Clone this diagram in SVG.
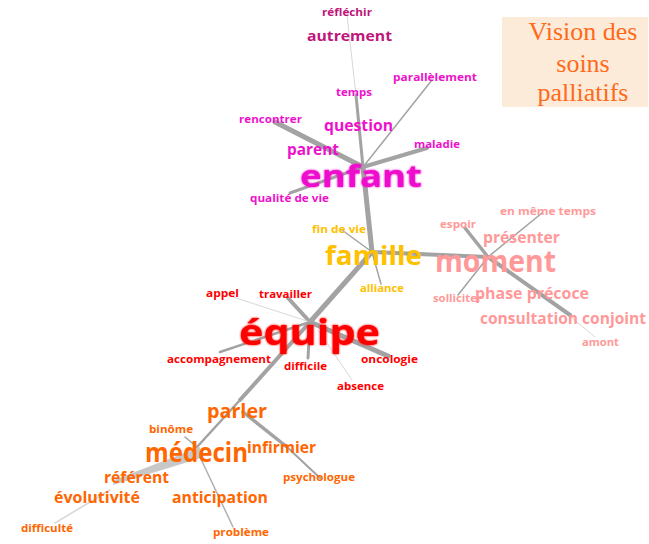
<svg xmlns="http://www.w3.org/2000/svg" width="649" height="544" viewBox="0 0 649 544">
<defs>
<style>
text.w{font-family:"Open Sans","Noto Sans","DejaVu Sans",sans-serif;font-weight:bold}
.s{font-size:10.5px}
.m{font-size:16.5px}
.mg{fill:#EE11CC}.dk{fill:#C0157A}.gd{fill:#FFC000}.pk{fill:#FF9999}.rd{fill:#FF0000}.or{fill:#FF6600}
#connectors line{stroke:#a3a3a3;stroke-linecap:round;fill:none}
#connectors .lt{stroke:#d8d8d8}
.title{font-family:"Liberation Serif","Times New Roman",serif;font-size:26px;fill:#FF6A1A;text-anchor:middle}
</style>
<filter id="glow" x="-10%" y="-30%" width="120%" height="160%">
<feGaussianBlur in="SourceGraphic" stdDeviation="0.9" result="b"/>
<feMerge><feMergeNode in="b"/><feMergeNode in="SourceGraphic"/></feMerge>
</filter>
</defs>
<rect width="649" height="544" fill="#ffffff"/>
<g id="title">
<rect x="502" y="17" width="146" height="90" fill="#FDEBD9"/>
<text class="title" x="583" y="40">Vision des</text>
<text class="title" x="583" y="72">soins</text>
<text class="title" x="583" y="101">palliatifs</text>
</g>
<g id="connectors">
<line class="lt" x1="347" y1="15" x2="356" y2="95" stroke-width="1"/>
<line x1="356" y1="95" x2="363" y2="167" stroke-width="3"/>
<line x1="432" y1="80" x2="363" y2="167" stroke-width="1.5"/>
<line x1="275" y1="122" x2="363" y2="167" stroke-width="5"/>
<line x1="427" y1="148" x2="363" y2="167" stroke-width="4"/>
<line x1="290" y1="193" x2="363" y2="167" stroke-width="3"/>
<line x1="363" y1="167" x2="372" y2="252" stroke-width="5"/>
<line x1="342" y1="230" x2="372" y2="252" stroke-width="1.5"/>
<line x1="372" y1="252" x2="381" y2="284" stroke-width="1.5"/>
<line x1="372" y1="252" x2="488" y2="257" stroke-width="4"/>
<line x1="465" y1="228" x2="488" y2="257" stroke-width="3.5"/>
<line x1="542" y1="213" x2="488" y2="257" stroke-width="1.5"/>
<line x1="458" y1="295" x2="488" y2="257" stroke-width="1.5"/>
<line x1="488" y1="257" x2="570" y2="315" stroke-width="4"/>
<line class="lt" x1="572" y1="318" x2="595" y2="337" stroke-width="1"/>
<line x1="372" y1="252" x2="310" y2="322" stroke-width="5"/>
<line x1="310" y1="322" x2="240" y2="400" stroke-width="4"/>
<line x1="240" y1="400" x2="197" y2="447" stroke-width="2.5"/>
<line x1="288" y1="298" x2="310" y2="322" stroke-width="4"/>
<line x1="310" y1="322" x2="388" y2="356" stroke-width="5"/>
<line class="lt" x1="233" y1="297" x2="310" y2="322" stroke-width="1"/>
<line x1="220" y1="352" x2="310" y2="322" stroke-width="2.5"/>
<line x1="308" y1="358" x2="310" y2="322" stroke-width="3"/>
<line class="lt" x1="318" y1="330" x2="352" y2="380" stroke-width="1"/>
<line x1="243" y1="412" x2="287" y2="447" stroke-width="3.5"/>
<line x1="287" y1="447" x2="320" y2="478" stroke-width="2"/>
<line x1="185" y1="437" x2="197" y2="447" stroke-width="1.5"/>
<polygon points="200,447 201,458 113,485 114,480" fill="#c8c8c8"/>
<line class="lt" x1="55" y1="523" x2="110" y2="490" stroke-width="1.5"/>
<line x1="200" y1="457" x2="233" y2="527" stroke-width="1.5" style="stroke:#b0b0b0"/>
</g>
<g id="n-reflechir"><text class="w s dk" x="322" y="16" textLength="50" lengthAdjust="spacingAndGlyphs">réfléchir</text></g>
<g id="n-autrement"><text class="w dk" style="font-size:15px" x="307" y="41" textLength="85" lengthAdjust="spacingAndGlyphs">autrement</text></g>
<g id="n-parallelement"><text class="w s mg" x="393" y="81" textLength="84" lengthAdjust="spacingAndGlyphs">parallèlement</text></g>
<g id="n-temps"><text class="w s mg" x="336" y="96" textLength="36" lengthAdjust="spacingAndGlyphs">temps</text></g>
<g id="n-rencontrer"><text class="w s mg" x="239" y="123" textLength="63" lengthAdjust="spacingAndGlyphs">rencontrer</text></g>
<g id="n-question"><text class="w m mg" x="324" y="131" textLength="69" lengthAdjust="spacingAndGlyphs">question</text></g>
<g id="n-parent"><text class="w m mg" x="287" y="155" textLength="52" lengthAdjust="spacingAndGlyphs">parent</text></g>
<g id="n-maladie"><text class="w s mg" x="414" y="148" textLength="46" lengthAdjust="spacingAndGlyphs">maladie</text></g>
<g id="n-enfant"><text class="w mg" style="font-size:31px" filter="url(#glow)" x="300" y="187" textLength="122" lengthAdjust="spacingAndGlyphs">enfant</text></g>
<g id="n-qualite"><text class="w s mg" x="250" y="202" textLength="79" lengthAdjust="spacingAndGlyphs">qualité de vie</text></g>
<g id="n-findevie"><text class="w s gd" x="312" y="233" textLength="54" lengthAdjust="spacingAndGlyphs">fin de vie</text></g>
<g id="n-famille"><text class="w gd" style="font-size:27px" x="325" y="265" textLength="97" lengthAdjust="spacingAndGlyphs">famille</text></g>
<g id="n-alliance"><text class="w s gd" x="360" y="292" textLength="44" lengthAdjust="spacingAndGlyphs">alliance</text></g>
<g id="n-espoir"><text class="w s pk" x="440" y="228" textLength="36" lengthAdjust="spacingAndGlyphs">espoir</text></g>
<g id="n-enmemetemps"><text class="w s pk" x="500" y="215" textLength="96" lengthAdjust="spacingAndGlyphs">en même temps</text></g>
<g id="n-presenter"><text class="w m pk" x="483" y="243" textLength="77" lengthAdjust="spacingAndGlyphs">présenter</text></g>
<g id="n-moment"><text class="w pk" style="font-size:30px" x="435" y="272" textLength="121" lengthAdjust="spacingAndGlyphs">moment</text></g>
<g id="n-solliciter"><text class="w s pk" x="433" y="302" textLength="49" lengthAdjust="spacingAndGlyphs">solliciter</text></g>
<g id="n-phase"><text class="w m pk" x="475" y="299" textLength="114" lengthAdjust="spacingAndGlyphs">phase précoce</text></g>
<g id="n-consultation"><text class="w m pk" x="480" y="324" textLength="166" lengthAdjust="spacingAndGlyphs">consultation conjoint</text></g>
<g id="n-amont"><text class="w s pk" x="582" y="346" textLength="37" lengthAdjust="spacingAndGlyphs">amont</text></g>
<g id="n-appel"><text class="w s rd" x="206" y="297" textLength="33" lengthAdjust="spacingAndGlyphs">appel</text></g>
<g id="n-travailler"><text class="w s rd" x="259" y="298" textLength="53" lengthAdjust="spacingAndGlyphs">travailler</text></g>
<g id="n-equipe"><text class="w rd" style="font-size:36px" filter="url(#glow)" x="239" y="345" textLength="141" lengthAdjust="spacingAndGlyphs">équipe</text></g>
<g id="n-accompagnement"><text class="w s rd" x="167" y="363" textLength="104" lengthAdjust="spacingAndGlyphs">accompagnement</text></g>
<g id="n-difficile"><text class="w s rd" x="284" y="370" textLength="43" lengthAdjust="spacingAndGlyphs">difficile</text></g>
<g id="n-oncologie"><text class="w s rd" x="361" y="363" textLength="57" lengthAdjust="spacingAndGlyphs">oncologie</text></g>
<g id="n-absence"><text class="w s rd" x="337" y="390" textLength="47" lengthAdjust="spacingAndGlyphs">absence</text></g>
<g id="n-parler"><text class="w or" style="font-size:20px" x="207" y="418" textLength="60" lengthAdjust="spacingAndGlyphs">parler</text></g>
<g id="n-binome"><text class="w s or" x="149" y="433" textLength="44" lengthAdjust="spacingAndGlyphs">binôme</text></g>
<g id="n-medecin"><text class="w or" style="font-size:26px" x="145" y="462" textLength="103" lengthAdjust="spacingAndGlyphs">médecin</text></g>
<g id="n-infirmier"><text class="w m or" x="247" y="453" textLength="69" lengthAdjust="spacingAndGlyphs">infirmier</text></g>
<g id="n-psychologue"><text class="w s or" x="283" y="481" textLength="72" lengthAdjust="spacingAndGlyphs">psychologue</text></g>
<g id="n-referent"><text class="w m or" x="104" y="483" textLength="65" lengthAdjust="spacingAndGlyphs">référent</text></g>
<g id="n-evolutivite"><text class="w m or" x="54" y="503" textLength="86" lengthAdjust="spacingAndGlyphs">évolutivité</text></g>
<g id="n-anticipation"><text class="w m or" x="172" y="503" textLength="96" lengthAdjust="spacingAndGlyphs">anticipation</text></g>
<g id="n-difficulte"><text class="w s or" x="21" y="532" textLength="52" lengthAdjust="spacingAndGlyphs">difficulté</text></g>
<g id="n-probleme"><text class="w s or" x="213" y="536" textLength="56" lengthAdjust="spacingAndGlyphs">problème</text></g>
</svg>
